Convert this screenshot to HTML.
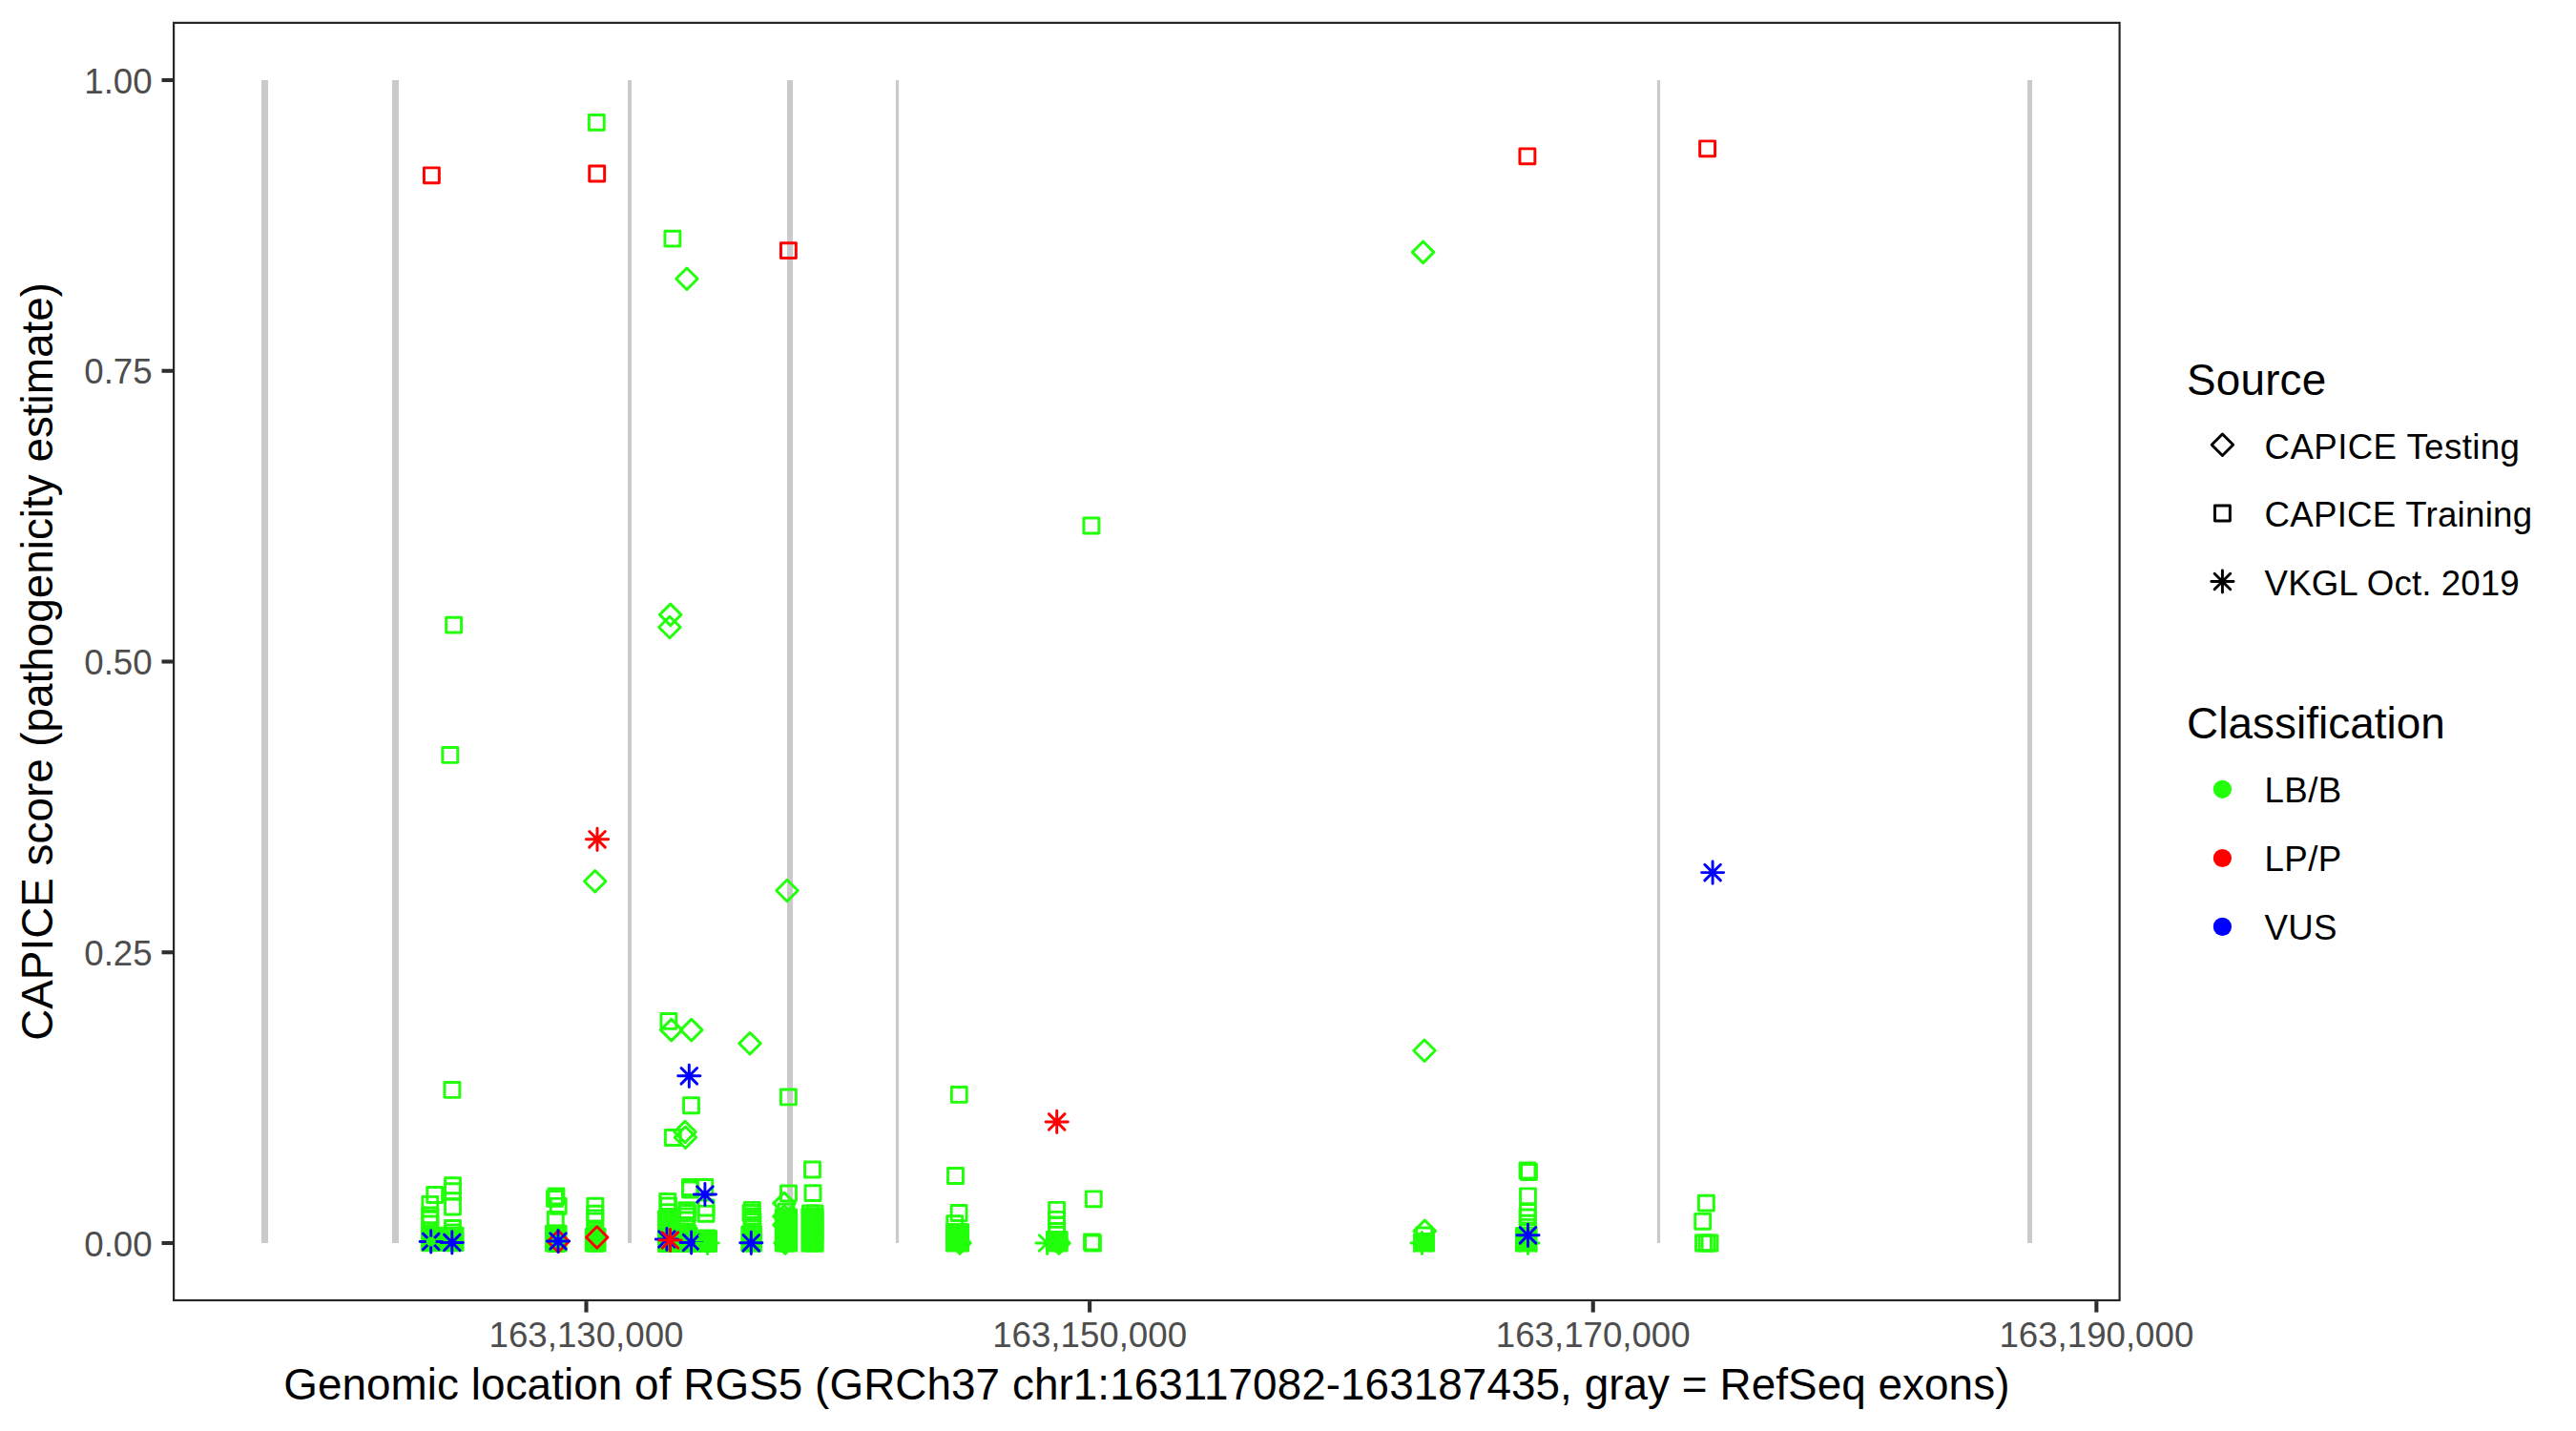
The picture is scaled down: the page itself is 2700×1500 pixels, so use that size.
<!DOCTYPE html><html><head><meta charset="utf-8"><style>html,body{margin:0;padding:0;background:#fff;}svg{display:block;}text{font-family:"Liberation Sans",sans-serif;}</style></head><body>
<svg width="2700" height="1500" viewBox="0 0 2700 1500">
<rect x="0" y="0" width="2700" height="1500" fill="#FFFFFF"/>
<rect x="274.00" y="84.00" width="7.00" height="1219.00" fill="#CACACA"/>
<rect x="411.00" y="84.00" width="7.00" height="1219.00" fill="#CACACA"/>
<rect x="658.00" y="84.00" width="4.00" height="1219.00" fill="#CACACA"/>
<rect x="825.00" y="84.00" width="6.00" height="1219.00" fill="#CACACA"/>
<rect x="938.90" y="84.00" width="3.20" height="1219.00" fill="#CACACA"/>
<rect x="1736.90" y="84.00" width="3.20" height="1219.00" fill="#CACACA"/>
<rect x="2125.00" y="84.00" width="5.00" height="1219.00" fill="#CACACA"/>
<g fill="none" stroke-width="2.95" stroke-linejoin="round" stroke-linecap="round">
<rect x="617.35" y="120.45" width="15.90" height="15.90" stroke="#22FF0A"/>
<rect x="444.45" y="175.85" width="15.90" height="15.90" stroke="#FF0000"/>
<rect x="617.75" y="174.05" width="15.90" height="15.90" stroke="#FF0000"/>
<rect x="696.95" y="242.15" width="15.90" height="15.90" stroke="#22FF0A"/>
<rect x="818.45" y="254.65" width="15.90" height="15.90" stroke="#FF0000"/>
<path d="M719.90 280.95L731.15 292.20L719.90 303.45L708.65 292.20Z" stroke="#22FF0A"/>
<rect x="1592.95" y="155.85" width="15.90" height="15.90" stroke="#FF0000"/>
<rect x="1781.65" y="147.85" width="15.90" height="15.90" stroke="#FF0000"/>
<path d="M1491.60 253.15L1502.85 264.40L1491.60 275.65L1480.35 264.40Z" stroke="#22FF0A"/>
<rect x="467.65" y="647.15" width="15.90" height="15.90" stroke="#22FF0A"/>
<rect x="463.85" y="783.45" width="15.90" height="15.90" stroke="#22FF0A"/>
<path d="M614.40 879.80H637.60M626.00 868.20V891.40M617.70 871.50L634.30 888.10M617.70 888.10L634.30 871.50" stroke="#FF0000"/>
<path d="M623.70 912.45L634.95 923.70L623.70 934.95L612.45 923.70Z" stroke="#22FF0A"/>
<path d="M702.70 633.15L713.95 644.40L702.70 655.65L691.45 644.40Z" stroke="#22FF0A"/>
<path d="M701.90 646.25L713.15 657.50L701.90 668.75L690.65 657.50Z" stroke="#22FF0A"/>
<path d="M825.00 922.25L836.25 933.50L825.00 944.75L813.75 933.50Z" stroke="#22FF0A"/>
<rect x="1135.95" y="543.05" width="15.90" height="15.90" stroke="#22FF0A"/>
<path d="M1783.50 914.60H1806.70M1795.10 903.00V926.20M1786.80 906.30L1803.40 922.90M1786.80 922.90L1803.40 906.30" stroke="#0000FF"/>
<rect x="465.95" y="1134.45" width="15.90" height="15.90" stroke="#22FF0A"/>
<rect x="692.95" y="1062.45" width="15.90" height="15.90" stroke="#22FF0A"/>
<path d="M703.70 1068.35L714.95 1079.60L703.70 1090.85L692.45 1079.60Z" stroke="#22FF0A"/>
<path d="M724.70 1068.35L735.95 1079.60L724.70 1090.85L713.45 1079.60Z" stroke="#22FF0A"/>
<path d="M786.00 1082.45L797.25 1093.70L786.00 1104.95L774.75 1093.70Z" stroke="#22FF0A"/>
<path d="M710.70 1127.80H733.90M722.30 1116.20V1139.40M714.00 1119.50L730.60 1136.10M714.00 1136.10L730.60 1119.50" stroke="#0000FF"/>
<rect x="716.55" y="1150.75" width="15.90" height="15.90" stroke="#22FF0A"/>
<rect x="818.45" y="1141.95" width="15.90" height="15.90" stroke="#22FF0A"/>
<rect x="697.35" y="1184.55" width="15.90" height="15.90" stroke="#22FF0A"/>
<path d="M718.40 1180.95L729.65 1192.20L718.40 1203.45L707.15 1192.20Z" stroke="#22FF0A"/>
<path d="M718.00 1175.25L729.25 1186.50L718.00 1197.75L706.75 1186.50Z" stroke="#22FF0A"/>
<rect x="997.35" y="1139.45" width="15.90" height="15.90" stroke="#22FF0A"/>
<path d="M1096.10 1175.90H1119.30M1107.70 1164.30V1187.50M1099.40 1167.60L1116.00 1184.20M1099.40 1184.20L1116.00 1167.60" stroke="#FF0000"/>
<rect x="993.55" y="1224.55" width="15.90" height="15.90" stroke="#22FF0A"/>
<rect x="1138.35" y="1248.85" width="15.90" height="15.90" stroke="#22FF0A"/>
<path d="M1493.00 1090.05L1504.25 1101.30L1493.00 1112.55L1481.75 1101.30Z" stroke="#22FF0A"/>
<rect x="1780.45" y="1253.15" width="15.90" height="15.90" stroke="#22FF0A"/>
<rect x="1776.75" y="1272.35" width="15.90" height="15.90" stroke="#22FF0A"/>
<rect x="447.75" y="1244.55" width="15.90" height="15.90" stroke="#22FF0A"/>
<rect x="441.00" y="1285.80" width="45.60" height="26.20" rx="1.5" fill="#22FF0A" stroke="none"/>
<rect x="442.85" y="1254.35" width="15.90" height="15.90" stroke="#22FF0A"/>
<rect x="442.85" y="1266.05" width="15.90" height="15.90" stroke="#22FF0A"/>
<rect x="442.85" y="1269.05" width="15.90" height="15.90" stroke="#22FF0A"/>
<rect x="442.85" y="1275.05" width="15.90" height="15.90" stroke="#22FF0A"/>
<rect x="442.85" y="1282.05" width="15.90" height="15.90" stroke="#22FF0A"/>
<rect x="442.85" y="1287.05" width="15.90" height="15.90" stroke="#22FF0A"/>
<rect x="442.85" y="1291.05" width="15.90" height="15.90" stroke="#22FF0A"/>
<rect x="442.85" y="1294.85" width="15.90" height="15.90" stroke="#22FF0A"/>
<rect x="466.55" y="1234.75" width="15.90" height="15.90" stroke="#22FF0A"/>
<rect x="466.55" y="1240.75" width="15.90" height="15.90" stroke="#22FF0A"/>
<rect x="466.55" y="1257.05" width="15.90" height="15.90" stroke="#22FF0A"/>
<rect x="466.55" y="1279.45" width="15.90" height="15.90" stroke="#22FF0A"/>
<rect x="466.55" y="1284.05" width="15.90" height="15.90" stroke="#22FF0A"/>
<rect x="466.55" y="1288.05" width="15.90" height="15.90" stroke="#22FF0A"/>
<rect x="466.55" y="1291.05" width="15.90" height="15.90" stroke="#22FF0A"/>
<rect x="466.55" y="1294.85" width="15.90" height="15.90" stroke="#22FF0A"/>
<path d="M440.10 1301.40H463.30M451.70 1289.80V1313.00M443.40 1293.10L460.00 1309.70M443.40 1309.70L460.00 1293.10" stroke="#0000FF"/>
<circle cx="451.70" cy="1301.40" r="5.00" fill="#22FF0A" stroke="none"/>
<path d="M462.20 1302.40H485.40M473.80 1290.80V1314.00M465.50 1294.10L482.10 1310.70M465.50 1310.70L482.10 1294.10" stroke="#0000FF"/>
<rect x="575.05" y="1245.95" width="15.90" height="15.90" stroke="#22FF0A"/>
<rect x="573.55" y="1248.45" width="15.90" height="15.90" stroke="#22FF0A"/>
<rect x="577.25" y="1256.35" width="15.90" height="15.90" stroke="#22FF0A"/>
<rect x="574.35" y="1270.45" width="15.90" height="15.90" stroke="#22FF0A"/>
<rect x="575.05" y="1284.95" width="15.90" height="15.90" stroke="#22FF0A"/>
<rect x="574.55" y="1288.05" width="15.90" height="15.90" stroke="#22FF0A"/>
<rect x="575.55" y="1292.05" width="15.90" height="15.90" stroke="#22FF0A"/>
<rect x="575.05" y="1295.65" width="15.90" height="15.90" stroke="#22FF0A"/>
<rect x="571.00" y="1283.80" width="23.60" height="28.80" rx="1.5" fill="#22FF0A" stroke="none"/>
<path d="M585.20 1289.95L596.45 1301.20L585.20 1312.45L573.95 1301.20Z" stroke="#FF0000"/>
<path d="M573.40 1301.00H596.60M585.00 1289.40V1312.60M576.70 1292.70L593.30 1309.30M576.70 1309.30L593.30 1292.70" stroke="#0000FF"/>
<rect x="615.85" y="1256.15" width="15.90" height="15.90" stroke="#22FF0A"/>
<rect x="615.85" y="1264.15" width="15.90" height="15.90" stroke="#22FF0A"/>
<rect x="615.85" y="1268.85" width="15.90" height="15.90" stroke="#22FF0A"/>
<rect x="615.85" y="1282.05" width="15.90" height="15.90" stroke="#22FF0A"/>
<rect x="615.85" y="1286.85" width="15.90" height="15.90" stroke="#22FF0A"/>
<rect x="615.85" y="1291.05" width="15.90" height="15.90" stroke="#22FF0A"/>
<rect x="615.85" y="1295.35" width="15.90" height="15.90" stroke="#22FF0A"/>
<rect x="612.80" y="1286.80" width="22.70" height="25.80" rx="1.5" fill="#22FF0A" stroke="none"/>
<path d="M625.70 1285.75L636.95 1297.00L625.70 1308.25L614.45 1297.00Z" stroke="#FF0000"/>
<rect x="691.75" y="1251.55" width="15.90" height="15.90" stroke="#22FF0A"/>
<rect x="715.55" y="1236.55" width="15.90" height="15.90" stroke="#22FF0A"/>
<rect x="730.85" y="1236.55" width="15.90" height="15.90" stroke="#22FF0A"/>
<rect x="732.05" y="1258.05" width="15.90" height="15.90" stroke="#22FF0A"/>
<rect x="732.05" y="1264.35" width="15.90" height="15.90" stroke="#22FF0A"/>
<rect x="711.85" y="1260.65" width="15.90" height="15.90" stroke="#22FF0A"/>
<rect x="711.85" y="1266.95" width="15.90" height="15.90" stroke="#22FF0A"/>
<rect x="692.55" y="1262.75" width="15.90" height="15.90" stroke="#22FF0A"/>
<rect x="692.55" y="1269.75" width="15.90" height="15.90" stroke="#22FF0A"/>
<rect x="692.55" y="1282.05" width="15.90" height="15.90" stroke="#22FF0A"/>
<rect x="692.55" y="1295.05" width="15.90" height="15.90" stroke="#22FF0A"/>
<rect x="713.05" y="1285.05" width="15.90" height="15.90" stroke="#22FF0A"/>
<rect x="713.05" y="1295.05" width="15.90" height="15.90" stroke="#22FF0A"/>
<rect x="733.05" y="1290.05" width="15.90" height="15.90" stroke="#22FF0A"/>
<rect x="733.05" y="1295.05" width="15.90" height="15.90" stroke="#22FF0A"/>
<rect x="689.00" y="1268.00" width="23.00" height="45.00" rx="1.5" fill="#22FF0A" stroke="none"/>
<rect x="715.55" y="1239.05" width="15.90" height="15.90" stroke="#22FF0A"/>
<rect x="692.55" y="1256.05" width="15.90" height="15.90" stroke="#22FF0A"/>
<rect x="712.55" y="1263.55" width="15.90" height="15.90" stroke="#22FF0A"/>
<rect x="711.55" y="1271.05" width="15.90" height="15.90" stroke="#22FF0A"/>
<rect x="710.70" y="1286.00" width="21.00" height="27.00" rx="1.5" fill="#22FF0A" stroke="none"/>
<rect x="731.70" y="1289.00" width="20.30" height="24.00" rx="1.5" fill="#22FF0A" stroke="none"/>
<path d="M687.30 1299.00H710.50M698.90 1287.40V1310.60M690.60 1290.70L707.20 1307.30M690.60 1307.30L707.20 1290.70" stroke="#0000FF"/>
<path d="M690.90 1300.00H714.10M702.50 1288.40V1311.60M694.20 1291.70L710.80 1308.30M694.20 1308.30L710.80 1291.70" stroke="#FF0000"/>
<path d="M713.00 1302.50H736.20M724.60 1290.90V1314.10M716.30 1294.20L732.90 1310.80M716.30 1310.80L732.90 1294.20" stroke="#0000FF"/>
<path d="M729.90 1303.00H753.10M741.50 1291.40V1314.60M733.20 1294.70L749.80 1311.30M733.20 1311.30L749.80 1294.70" stroke="#22FF0A"/>
<path d="M727.30 1252.00H750.50M738.90 1240.40V1263.60M730.60 1243.70L747.20 1260.30M730.60 1260.30L747.20 1243.70" stroke="#0000FF"/>
<rect x="780.45" y="1260.35" width="15.90" height="15.90" stroke="#22FF0A"/>
<rect x="780.45" y="1267.05" width="15.90" height="15.90" stroke="#22FF0A"/>
<rect x="780.45" y="1270.05" width="15.90" height="15.90" stroke="#22FF0A"/>
<rect x="780.45" y="1277.75" width="15.90" height="15.90" stroke="#22FF0A"/>
<rect x="780.45" y="1285.55" width="15.90" height="15.90" stroke="#22FF0A"/>
<rect x="780.45" y="1295.05" width="15.90" height="15.90" stroke="#22FF0A"/>
<rect x="776.30" y="1284.50" width="22.70" height="28.10" rx="1.5" fill="#22FF0A" stroke="none"/>
<rect x="780.05" y="1268.35" width="15.90" height="15.90" stroke="#22FF0A"/>
<rect x="779.05" y="1263.55" width="15.90" height="15.90" stroke="#22FF0A"/>
<rect x="781.05" y="1272.55" width="15.90" height="15.90" stroke="#22FF0A"/>
<path d="M775.70 1302.80H798.90M787.30 1291.20V1314.40M779.00 1294.50L795.60 1311.10M779.00 1311.10L795.60 1294.50" stroke="#0000FF"/>
<rect x="818.55" y="1242.95" width="15.90" height="15.90" stroke="#22FF0A"/>
<rect x="816.05" y="1262.05" width="15.90" height="15.90" stroke="#22FF0A"/>
<rect x="816.05" y="1270.05" width="15.90" height="15.90" stroke="#22FF0A"/>
<rect x="816.05" y="1279.65" width="15.90" height="15.90" stroke="#22FF0A"/>
<rect x="816.05" y="1289.45" width="15.90" height="15.90" stroke="#22FF0A"/>
<rect x="816.05" y="1295.05" width="15.90" height="15.90" stroke="#22FF0A"/>
<path d="M822.00 1250.15L833.25 1261.40L822.00 1272.65L810.75 1261.40Z" stroke="#22FF0A"/>
<path d="M822.00 1263.75L833.25 1275.00L822.00 1286.25L810.75 1275.00Z" stroke="#22FF0A"/>
<path d="M822.00 1272.75L833.25 1284.00L822.00 1295.25L810.75 1284.00Z" stroke="#22FF0A"/>
<path d="M823.00 1291.75L834.25 1303.00L823.00 1314.25L811.75 1303.00Z" stroke="#22FF0A"/>
<rect x="811.70" y="1266.50" width="24.50" height="46.10" rx="1.5" fill="#22FF0A" stroke="none"/>
<rect x="843.55" y="1218.05" width="15.90" height="15.90" stroke="#22FF0A"/>
<rect x="844.05" y="1242.65" width="15.90" height="15.90" stroke="#22FF0A"/>
<rect x="841.55" y="1264.05" width="15.90" height="15.90" stroke="#22FF0A"/>
<rect x="846.05" y="1264.05" width="15.90" height="15.90" stroke="#22FF0A"/>
<rect x="841.55" y="1270.05" width="15.90" height="15.90" stroke="#22FF0A"/>
<rect x="846.05" y="1270.05" width="15.90" height="15.90" stroke="#22FF0A"/>
<rect x="841.55" y="1279.65" width="15.90" height="15.90" stroke="#22FF0A"/>
<rect x="846.05" y="1279.65" width="15.90" height="15.90" stroke="#22FF0A"/>
<rect x="841.55" y="1285.55" width="15.90" height="15.90" stroke="#22FF0A"/>
<rect x="846.05" y="1285.55" width="15.90" height="15.90" stroke="#22FF0A"/>
<rect x="841.55" y="1295.05" width="15.90" height="15.90" stroke="#22FF0A"/>
<rect x="846.05" y="1295.05" width="15.90" height="15.90" stroke="#22FF0A"/>
<rect x="839.40" y="1266.00" width="24.10" height="46.60" rx="1.5" fill="#22FF0A" stroke="none"/>
<rect x="997.15" y="1263.55" width="15.90" height="15.90" stroke="#22FF0A"/>
<rect x="992.75" y="1274.65" width="15.90" height="15.90" stroke="#22FF0A"/>
<rect x="991.00" y="1282.00" width="25.10" height="30.60" rx="1.5" fill="#22FF0A" stroke="none"/>
<path d="M1006.00 1291.75L1017.25 1303.00L1006.00 1314.25L994.75 1303.00Z" stroke="#22FF0A"/>
<rect x="1099.65" y="1260.35" width="15.90" height="15.90" stroke="#22FF0A"/>
<rect x="1099.65" y="1270.35" width="15.90" height="15.90" stroke="#22FF0A"/>
<rect x="1099.65" y="1276.25" width="15.90" height="15.90" stroke="#22FF0A"/>
<rect x="1099.65" y="1282.45" width="15.90" height="15.90" stroke="#22FF0A"/>
<rect x="1096.10" y="1290.10" width="23.60" height="22.50" rx="1.5" fill="#22FF0A" stroke="none"/>
<path d="M1086.00 1303.00H1109.20M1097.60 1291.40V1314.60M1089.30 1294.70L1105.90 1311.30M1089.30 1311.30L1105.90 1294.70" stroke="#22FF0A"/>
<path d="M1110.00 1291.75L1121.25 1303.00L1110.00 1314.25L1098.75 1303.00Z" stroke="#22FF0A"/>
<rect x="1136.55" y="1294.05" width="15.90" height="15.90" stroke="#22FF0A"/>
<rect x="1137.55" y="1295.05" width="15.90" height="15.90" stroke="#22FF0A"/>
<path d="M1493.30 1279.15L1504.55 1290.40L1493.30 1301.65L1482.05 1290.40Z" stroke="#22FF0A"/>
<rect x="1484.85" y="1287.05" width="15.90" height="15.90" stroke="#22FF0A"/>
<rect x="1484.85" y="1293.55" width="15.90" height="15.90" stroke="#22FF0A"/>
<rect x="1481.00" y="1292.20" width="23.00" height="20.30" rx="1.5" fill="#22FF0A" stroke="none"/>
<path d="M1478.90 1303.00H1502.10M1490.50 1291.40V1314.60M1482.20 1294.70L1498.80 1311.30M1482.20 1311.30L1498.80 1294.70" stroke="#22FF0A"/>
<rect x="1593.05" y="1219.05" width="15.90" height="15.90" stroke="#22FF0A"/>
<rect x="1594.55" y="1220.55" width="15.90" height="15.90" stroke="#22FF0A"/>
<rect x="1593.55" y="1245.85" width="15.90" height="15.90" stroke="#22FF0A"/>
<rect x="1593.55" y="1262.45" width="15.90" height="15.90" stroke="#22FF0A"/>
<rect x="1593.55" y="1274.25" width="15.90" height="15.90" stroke="#22FF0A"/>
<rect x="1593.55" y="1282.05" width="15.90" height="15.90" stroke="#22FF0A"/>
<rect x="1593.55" y="1293.55" width="15.90" height="15.90" stroke="#22FF0A"/>
<path d="M1589.90 1303.00H1613.10M1601.50 1291.40V1314.60M1593.20 1294.70L1609.80 1311.30M1593.20 1311.30L1609.80 1294.70" stroke="#22FF0A"/>
<rect x="1593.05" y="1268.05" width="15.90" height="15.90" stroke="#22FF0A"/>
<rect x="1587.90" y="1286.00" width="23.70" height="26.50" rx="1.5" fill="#22FF0A" stroke="none"/>
<path d="M1589.90 1294.80H1613.10M1601.50 1283.20V1306.40M1593.20 1286.50L1609.80 1303.10M1593.20 1303.10L1609.80 1286.50" stroke="#0000FF"/>
<rect x="1777.55" y="1295.05" width="15.90" height="15.90" stroke="#22FF0A"/>
<rect x="1781.05" y="1295.05" width="15.90" height="15.90" stroke="#22FF0A"/>
<rect x="1784.05" y="1295.05" width="15.90" height="15.90" stroke="#22FF0A"/>
</g>
<rect x="182.10" y="23.90" width="2039.50" height="1339.10" fill="none" stroke="#262626" stroke-width="2.2"/>
<rect x="169.50" y="1300.95" width="11.50" height="4.10" fill="#2E2E2E"/>
<text x="159.6" y="1316.60" font-size="36.67" fill="#4D4D4D" text-anchor="end">0.00</text>
<rect x="169.50" y="996.20" width="11.50" height="4.10" fill="#2E2E2E"/>
<text x="159.6" y="1011.85" font-size="36.67" fill="#4D4D4D" text-anchor="end">0.25</text>
<rect x="169.50" y="691.45" width="11.50" height="4.10" fill="#2E2E2E"/>
<text x="159.6" y="707.10" font-size="36.67" fill="#4D4D4D" text-anchor="end">0.50</text>
<rect x="169.50" y="386.70" width="11.50" height="4.10" fill="#2E2E2E"/>
<text x="159.6" y="402.35" font-size="36.67" fill="#4D4D4D" text-anchor="end">0.75</text>
<rect x="169.50" y="81.95" width="11.50" height="4.10" fill="#2E2E2E"/>
<text x="159.6" y="97.60" font-size="36.67" fill="#4D4D4D" text-anchor="end">1.00</text>
<rect x="612.45" y="1364.10" width="4.10" height="11.50" fill="#2E2E2E"/>
<text x="614.50" y="1412.0" font-size="36.67" fill="#4D4D4D" text-anchor="middle">163,130,000</text>
<rect x="1140.07" y="1364.10" width="4.10" height="11.50" fill="#2E2E2E"/>
<text x="1142.12" y="1412.0" font-size="36.67" fill="#4D4D4D" text-anchor="middle">163,150,000</text>
<rect x="1667.69" y="1364.10" width="4.10" height="11.50" fill="#2E2E2E"/>
<text x="1669.74" y="1412.0" font-size="36.67" fill="#4D4D4D" text-anchor="middle">163,170,000</text>
<rect x="2195.31" y="1364.10" width="4.10" height="11.50" fill="#2E2E2E"/>
<text x="2197.36" y="1412.0" font-size="36.67" fill="#4D4D4D" text-anchor="middle">163,190,000</text>
<text x="1201.85" y="1466.8" font-size="45.83" fill="#000" text-anchor="middle" letter-spacing="0.066">Genomic location of RGS5 (GRCh37 chr1:163117082-163187435, gray = RefSeq exons)</text>
<text transform="translate(55,693.45) rotate(-90)" x="0" y="0" font-size="45.83" fill="#000" text-anchor="middle">CAPICE score (pathogenicity estimate)</text>
<text x="2292" y="413.5" font-size="45.83" fill="#000" letter-spacing="0.2">Source</text>
<g fill="none" stroke="#000" stroke-width="2.95" stroke-linejoin="round" stroke-linecap="round">
<path d="M2329.40 455.05L2340.65 466.30L2329.40 477.55L2318.15 466.30Z" stroke="#000"/>
<rect x="2321.45" y="530.05" width="15.90" height="15.90" stroke="#000"/>
<path d="M2317.80 609.50H2341.00M2329.40 597.90V621.10M2321.10 601.20L2337.70 617.80M2321.10 617.80L2337.70 601.20" stroke="#000"/>
</g>
<text x="2373.6" y="480.6" font-size="36.67" fill="#000" letter-spacing="0.4">CAPICE Testing</text>
<text x="2373.6" y="551.9" font-size="36.67" fill="#000" letter-spacing="0.24">CAPICE Training</text>
<text x="2373.6" y="623.8" font-size="36.67" fill="#000" letter-spacing="0.12">VKGL Oct. 2019</text>
<text x="2292" y="774.1" font-size="45.83" fill="#000" letter-spacing="0.06">Classification</text>
<circle cx="2329.4" cy="827.3" r="9.6" fill="#22FF0A"/>
<circle cx="2329.4" cy="899.5" r="9.6" fill="#FF0000"/>
<circle cx="2329.4" cy="971.4" r="9.6" fill="#0000FF"/>
<text x="2373.6" y="841.2" font-size="36.67" fill="#000" letter-spacing="0.35">LB/B</text>
<text x="2373.6" y="912.9" font-size="36.67" fill="#000" letter-spacing="0.35">LP/P</text>
<text x="2373.6" y="984.8" font-size="36.67" fill="#000" letter-spacing="0.2">VUS</text>
</svg></body></html>
